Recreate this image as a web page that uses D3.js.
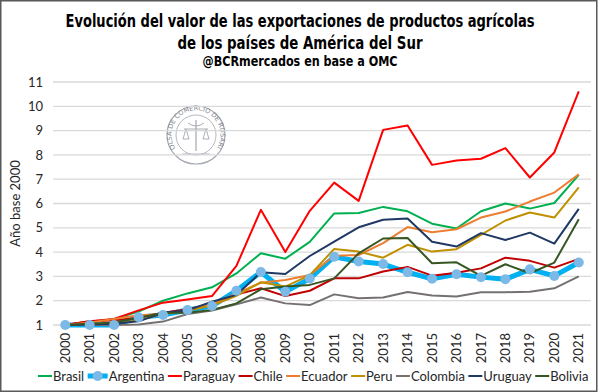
<!DOCTYPE html>
<html>
<head>
<meta charset="utf-8">
<script src="https://cdn.jsdelivr.net/npm/d3@7"></script>
<style>
  body { margin: 0; background: #fff; }
  svg { display: block; }
</style>
</head>
<body>
<div id="chart"></div>
<script>
// data (indices, base 2000 = 1)
var years = ["2000","2001","2002","2003","2004","2005","2006","2007","2008","2009","2010",
	"2011","2012","2013","2014","2015","2016","2017","2018","2019","2020","2021"];

var brasil    = [1, 1.1, 1.25, 1.55, 2.0, 2.3, 2.55, 3.12, 3.95, 3.73, 4.42, 5.59, 5.61, 5.86, 5.68, 5.17, 4.97, 5.68, 6.0, 5.79, 6.02, 7.18];
var argentina = [1, 1.0, 1.0, 1.32, 1.41, 1.62, 1.78, 2.41, 3.18, 2.37, 2.91, 3.81, 3.61, 3.51, 3.17, 2.9, 3.09, 2.97, 2.88, 3.29, 3.02, 3.57];
var paraguay  = [1, 1.15, 1.25, 1.6, 1.92, 2.05, 2.19, 3.43, 5.74, 4.0, 5.7, 6.86, 6.11, 9.03, 9.21, 7.59, 7.77, 7.84, 8.28, 7.07, 8.1, 10.61];
var chile     = [1, 1.15, 1.2, 1.3, 1.5, 1.65, 1.85, 2.25, 2.51, 2.19, 2.41, 2.92, 2.92, 3.2, 3.39, 3.03, 3.15, 3.33, 3.77, 3.64, 3.36, 3.72];
var ecuador   = [1, 1.1, 1.25, 1.4, 1.45, 1.6, 1.85, 2.3, 2.74, 2.85, 3.06, 3.85, 3.88, 4.37, 5.03, 4.82, 4.94, 5.42, 5.67, 6.08, 6.45, 7.2];
var peru      = [1, 1.0, 1.05, 1.2, 1.45, 1.6, 1.8, 2.2, 2.76, 2.58, 3.05, 4.13, 4.02, 3.77, 4.3, 4.02, 4.12, 4.71, 5.3, 5.63, 5.42, 6.66];
var colombia  = [1, 1.0, 1.0, 1.02, 1.14, 1.45, 1.6, 1.85, 2.13, 1.89, 1.82, 2.26, 2.1, 2.13, 2.36, 2.21, 2.17, 2.35, 2.35, 2.37, 2.51, 3.0];
var uruguay   = [1, 1.02, 1.05, 1.15, 1.5, 1.6, 1.96, 2.24, 3.17, 3.1, 3.84, 4.43, 5.02, 5.33, 5.38, 4.43, 4.23, 4.78, 4.5, 4.8, 4.35, 5.78];
var bolivia   = [1, 1.05, 1.1, 1.3, 1.5, 1.5, 1.62, 1.89, 2.47, 2.58, 2.65, 2.92, 3.95, 4.56, 4.58, 3.54, 3.58, 3.02, 3.5, 3.13, 3.57, 5.35];

var yTicks = [1,2,3,4,5,6,7,8,9,10,11];

var seriesNames  = ["Brasil","Argentina","Paraguay","Chile","Ecuador","Peru","Colombia","Uruguay","Bolivia"];
var seriesValues = [brasil, argentina, paraguay, chile, ecuador, peru, colombia, uruguay, bolivia];
var seriesColors = ["#00B050","#00B0F0","#FF0000","#C00000","#ED7D31","#BF9000","#767171","#1F3864","#375623"];

var W = 600, H = 392;
var margin = {top: 82, right: 9, bottom: 67, left: 53};

var svg = d3.select("#chart").append("svg")
	.attr("width", W)
	.attr("height", H);

// frame
svg.append("rect")
	.attr("x", 0.75).attr("y", 0.75)
	.attr("width", W - 4).attr("height", H - 1.5)
	.attr("fill", "#fff")
	.attr("stroke", "#595959")
	.attr("stroke-width", 1.5);

// titles
var titleFont = "'DejaVu Sans Condensed', 'Liberation Sans Narrow', sans-serif";
var titles = [
	{t: "Evolución del valor de las exportaciones de productos agrícolas", y: 27, size: 18.5, w: 469},
	{t: "de los países de América del Sur", y: 49, size: 18.5, w: 245},
	{t: "@BCRmercados en base a OMC", y: 66, size: 14, w: 195}
];
svg.selectAll(".title")
	.data(titles)
	.enter()
	.append("text")
	.attr("class", "title")
	.attr("x", 300)
	.attr("y", d => d.y)
	.attr("text-anchor", "middle")
	.attr("font-family", titleFont)
	.attr("font-weight", "bold")
	.attr("font-size", d => d.size)
	.attr("textLength", d => d.w)
	.attr("lengthAdjust", "spacingAndGlyphs")
	.text(d => d.t);

// scales
var x = d3.scaleBand()
	.domain(years)
	.range([margin.left, W - margin.right]);
var xc = d => x(d) + x.bandwidth() / 2;

var y = d3.scaleLinear()
	.domain([1, 11])
	.range([H - margin.bottom, margin.top]);

// watermark seal
var seal = svg.append("g").attr("transform", "translate(196,135)").attr("opacity", 0.7);
seal.append("circle").attr("r", 29).attr("fill", "none").attr("stroke", "#7d8390").attr("stroke-width", 1.2);
seal.append("circle").attr("r", 20).attr("fill", "none").attr("stroke", "#7d8390").attr("stroke-width", 0.8);
seal.append("path").attr("id", "sealPath")
	.attr("d", "M -20,14 A 24.5,24.5 0 1,1 20,14")
	.attr("fill", "none");
seal.append("text")
	.attr("font-family", "'DejaVu Sans', sans-serif")
	.attr("font-size", 6.5)
	.attr("fill", "#4d5360")
	.append("textPath")
	.attr("href", "#sealPath")
	.attr("startOffset", "50%")
	.attr("text-anchor", "middle")
	.text("BOLSA DE COMERCIO DE ROSARIO");
seal.append("line").attr("x1", 0).attr("y1", -15).attr("x2", 0).attr("y2", 16).attr("stroke", "#7d8390").attr("stroke-width", 1.2);
seal.append("path").attr("d", "M -12,-6 L 12,-6 M -10,-6 L -13,4 L -7,4 Z M 10,-6 L 7,4 L 13,4 Z M -8,-12 Q 0,-6 8,-12")
	.attr("fill", "none").attr("stroke", "#7d8390").attr("stroke-width", 0.9);
seal.append("path").attr("d", "M -14,19 L 14,19").attr("stroke", "#7d8390").attr("stroke-width", 0.8);

// gridlines
svg.append("g")
	.selectAll("line")
	.data(yTicks)
	.enter()
	.append("line")
	.attr("x1", margin.left)
	.attr("x2", W - margin.right)
	.attr("y1", d => y(d))
	.attr("y2", d => y(d))
	.attr("stroke", "#D9D9D9")
	.attr("stroke-width", 1.3);

var tickFont = "Lato, 'Open Sans', sans-serif";

// y axis
svg.append("g")
	.attr("transform", "translate(" + margin.left + ",0)")
	.call(d3.axisLeft(y)
		.tickValues(yTicks)
		.tickSize(0)
		.tickPadding(10))
	.attr("font-family", tickFont)
	.attr("font-size", 13)
	.call(g => g.select(".domain").remove())
	.selectAll("text").attr("fill", "#262626");

// x axis
svg.append("g")
	.attr("transform", "translate(0," + (H - margin.bottom) + ")")
	.call(d3.axisBottom(x).tickSize(0).tickPadding(0))
	.attr("font-family", tickFont)
	.attr("font-size", 13)
	.call(g => g.select(".domain").remove())
	.selectAll("text")
	.attr("fill", "#262626")
	.attr("transform", "rotate(-90)")
	.attr("x", -8)
	.attr("y", 0)
	.attr("dy", "0.35em")
	.style("text-anchor", "end");

// y axis title
svg.append("text")
	.attr("transform", "translate(20," + ((y(1) + y(11)) / 2) + ")rotate(-90)")
	.attr("text-anchor", "middle")
	.attr("font-family", tickFont)
	.attr("font-size", 13)
	.attr("fill", "#262626")
	.text("Año base 2000");

// lines
var line = d3.line()
	.x((d, i) => xc(years[i]))
	.y(d => y(d));

var series = seriesNames.map((n, i) => ({name: n, values: seriesValues[i], color: seriesColors[i]}));

svg.append("g")
	.selectAll("path")
	.data(series)
	.enter()
	.append("path")
	.attr("d", d => line(d.values))
	.attr("fill", "none")
	.attr("stroke", d => d.color)
	.attr("stroke-width", d => d.name == "Argentina" ? 5 : 2)
	.attr("stroke-linejoin", "round")
	.each(function(d) {
		if (d.name == "Argentina") {
			d3.select(this.parentNode).append("g")
				.selectAll("circle")
				.data(d.values)
				.enter()
				.append("circle")
				.attr("cx", (v, i) => xc(years[i]))
				.attr("cy", v => y(v))
				.attr("r", 5)
				.attr("fill", "#7DB9E6");
		}
	});

// legend
var legend = svg.append("g").attr("transform", "translate(0,376)");
var lx = 38;
series.forEach(function(s) {
	var g = legend.append("g").attr("transform", "translate(" + lx + ",0)");
	g.append("line")
		.attr("x1", 0).attr("x2", s.name == "Argentina" ? 20 : 14)
		.attr("y1", 0).attr("y2", 0)
		.attr("stroke", s.color)
		.attr("stroke-width", s.name == "Argentina" ? 5 : 2);
	if (s.name == "Argentina") {
		g.append("circle").attr("cx", 10).attr("cy", 0).attr("r", 5).attr("fill", "#7DB9E6");
	}
	var off = s.name == "Argentina" ? 21 : 15;
	var t = g.append("text")
		.attr("x", off)
		.attr("y", 0)
		.attr("dy", "0.35em")
		.attr("font-family", tickFont)
		.attr("font-size", 13)
		.attr("fill", "#262626")
		.text(s.name);
	lx += off + t.node().getComputedTextLength() + 3.5;
});
</script>
</body>
</html>
